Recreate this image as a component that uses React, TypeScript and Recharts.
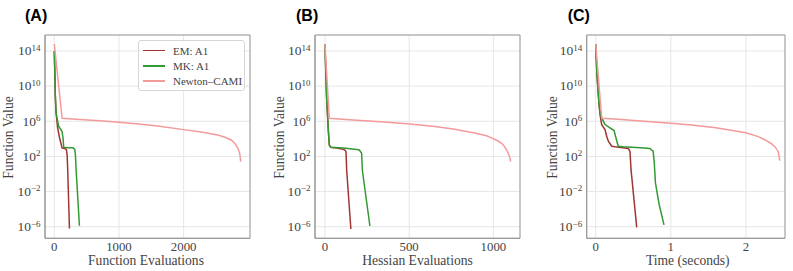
import React from 'react';
import { LineChart, Line, XAxis, YAxis, CartesianGrid, Legend, ReferenceArea } from 'recharts';

// ---------- data (x values and log10 of function value) ----------
const seriesNames = ['EM: A1', 'MK: A1', 'Newton\u2013CAMI'];
const seriesColors = ['#a23434', '#339933', '#f39a9a'];

// Panel A: function evaluations
const emA_x = [0, 10, 15, 25, 31, 51, 82, 119, 159, 186, 198, 207, 234];
const emA_logF = [14.0, 11.0, 9.0, 7.3, 6.75, 5.24, 4.1, 2.98, 2.9, 2.8, 2.2, 0.52, -6.2];
const mkA_x = [0, 10, 15, 25, 31, 67, 119, 135, 145, 211, 290, 316, 326, 337, 388];
const mkA_logF = [14.0, 11.0, 9.0, 7.3, 6.75, 5.43, 4.86, 4.1, 3.05, 3.0, 2.98, 2.8, 2.2, 0.52, -5.9];
const newtonA_x = [0, 120, 400, 700, 1000, 1300, 1600, 2000, 2271, 2530, 2650, 2737, 2789, 2830, 2851, 2870, 2882];
const newtonA_logF = [14.8, 6.34, 6.2, 6.05, 5.88, 5.68, 5.45, 5.05, 4.78, 4.44, 4.15, 3.87, 3.49, 3.05, 2.73, 2.2, 1.4];

// Panel B: Hessian evaluations
const emB_x = [0, 10, 20, 26, 34, 70, 109, 120, 125, 129, 154];
const emB_logF = [14.8, 8.8, 5.0, 3.3, 3.04, 2.95, 2.8, 2.7, 2.54, 0.45, -6.26];
const mkB_x = [0, 10, 20, 26, 34, 110, 188, 204, 218, 222, 238, 267];
const mkB_logF = [14.8, 8.8, 5.0, 3.3, 3.04, 2.95, 2.8, 2.73, 2.35, 0.45, -1.82, -5.92];
const newtonB_x = [0, 26, 168, 350, 505, 640, 762, 896, 960, 995, 1025, 1049, 1065, 1079, 1093, 1103];
const newtonB_logF = [14.8, 6.34, 6.15, 5.93, 5.69, 5.43, 5.12, 4.63, 4.35, 4.06, 3.78, 3.49, 3.15, 2.73, 2.16, 1.4];

// Panel C: time (seconds)
const emC_x = [0, 0.015, 0.035, 0.057, 0.08, 0.124, 0.146, 0.168, 0.213, 0.257, 0.434, 0.456, 0.47, 0.546];
const emC_logF = [14.8, 11.5, 9.0, 6.75, 5.62, 5.05, 4.3, 3.73, 3.16, 3.09, 2.9, 2.6, 0.52, -6.08];
const mkC_x = [0, 0.015, 0.048, 0.08, 0.124, 0.19, 0.244, 0.27, 0.3, 0.366, 0.6, 0.72, 0.764, 0.778, 0.795, 0.845, 0.909];
const mkC_logF = [14.8, 11.5, 7.5, 6.38, 5.62, 5.24, 4.94, 4.1, 3.16, 3.09, 3.0, 2.9, 2.6, 1.5, -1.0, -3.5, -5.8];
const newtonC_x = [0, 0.08, 0.3, 0.6, 1.0, 1.277, 1.6, 2.0, 2.164, 2.25, 2.33, 2.386, 2.43, 2.45];
const newtonC_logF = [14.8, 6.34, 6.22, 6.03, 5.77, 5.58, 5.25, 4.7, 4.25, 3.9, 3.5, 3.11, 2.54, 1.51];

// ticks
const yTickExponents = [-6, -2, 2, 6, 10, 14];
const xTicksA = [0, 1000, 2000];
const xTicksB = [0, 500, 1000];
const xTicksC = [0, 1, 2];

const panelTitles = ['(A)', '(B)', '(C)'];
const xAxisLabels = ['Function Evaluations', 'Hessian Evaluations', 'Time (seconds)'];
const yAxisLabel = 'Function Value';

// ---------- helpers ----------
const toPoints = (xs: number[], es: number[]) => xs.map((x, i) => ({ x, y: Math.pow(10, es[i]) }));
const yTicks = yTickExponents.map((e) => Math.pow(10, e));
const yDomain = [Math.pow(10, -7.32), Math.pow(10, 15.82)];

const SERIF = '"Liberation Serif", "Times New Roman", serif';
const SANS = '"Liberation Sans", Arial, sans-serif';
const TEXT = '#444';
const FRAME = '#9a9a9a';

const YTick = (props: any) => {
  const { x, y, payload } = props;
  const e = Math.round(Math.log10(payload.value));
  const exp = e < 0 ? '\u2212' + Math.abs(e) : String(e);
  return (
    <text x={x - 4.5} y={y + 4.3} textAnchor="end" fontFamily={SERIF} fill={TEXT} fontSize={13.5}>
      <tspan>10</tspan>
      <tspan dy={-4.5} fontSize={9}>{exp}</tspan>
    </text>
  );
};

const XTick = (props: any) => {
  const { x, y, payload } = props;
  return (
    <text x={x} y={y + 12.4} textAnchor="middle" fontFamily={SERIF} fill={TEXT} fontSize={12.8}>
      {payload.value}
    </text>
  );
};

const FixedText = (props: any) => {
  const { tx, ty, text, rotate, family, size, weight, fill, anchor } = props;
  return (
    <text
      x={rotate ? 0 : tx}
      y={rotate ? 0 : ty}
      transform={rotate ? `translate(${tx},${ty}) rotate(-90)` : undefined}
      textAnchor={anchor || 'middle'}
      fontFamily={family}
      fontSize={size}
      fontWeight={weight}
      fill={fill}
    >
      {text}
    </text>
  );
};

const LegendBox = (props: any) => {
  const payload = (props.payload || []) as any[];
  return (
    <div
      style={{
        position: 'absolute',
        left: 0,
        top: 0,
        width: 107,
        height: 51,
        boxSizing: 'border-box',
        border: '1px solid #d6d6d6',
        borderRadius: 3,
        background: 'rgba(255,255,255,0.85)',
      }}
    >
      {payload.map((p: any, i: number) => (
        <div key={i} style={{ position: 'absolute', left: 0, top: 9.5 + i * 15.3 - 7, height: 14, width: 107 }}>
          <div style={{ position: 'absolute', left: 3.5, top: 6, width: 22, height: 1.8, background: p.color }} />
          <div
            style={{
              position: 'absolute',
              left: 34,
              top: 0,
              lineHeight: '14px',
              fontFamily: SERIF,
              fontSize: 11,
              color: TEXT,
              whiteSpace: 'nowrap',
            }}
          >
            {p.value}
          </div>
        </div>
      ))}
    </div>
  );
};

type PanelProps = {
  left: number;
  width: number;
  plotLeft: number;
  plotRight: number;
  xDomain: number[];
  xTicks: number[];
  series: { x: number; y: number }[][];
  title: string;
  titleX: number;
  xLabel: string;
  xLabelCx: number;
  yLabelX: number;
  showLegend: boolean;
};

const PLOT_TOP = 35;
const PLOT_BOTTOM = 238.3;
const H = 271;

const Panel = (p: PanelProps) => {
  const margin = { top: PLOT_TOP, right: p.left + p.width - p.plotRight, bottom: 0, left: 0 };
  return (
    <div style={{ position: 'absolute', left: p.left, top: 0, width: p.width, height: H }}>
      <svg
        width={p.width}
        height={30}
        style={{ position: 'absolute', left: 0, top: 0, overflow: 'visible' }}
      >
        <text x={p.titleX - p.left} y={20.8} fontFamily={SANS} fontSize={16} fontWeight="bold" fill="#000">
          {p.title}
        </text>
      </svg>
      <LineChart width={p.width} height={H} margin={margin}>
        <CartesianGrid stroke="#e6e6e6" strokeWidth={1} />
        <XAxis
          type="number"
          dataKey="x"
          domain={p.xDomain}
          ticks={p.xTicks}
          allowDataOverflow
          height={H - PLOT_BOTTOM}
          tickSize={0}
          tickMargin={0}
          tickLine={false}
          axisLine={{ stroke: FRAME, strokeWidth: 1 }}
          tick={<XTick />}
          interval={0}
          label={
            <FixedText tx={p.xLabelCx - p.left} ty={265} text={p.xLabel} family={SERIF} size={13.6} fill={TEXT} />
          }
        />
        <YAxis
          type="number"
          scale="log"
          domain={yDomain}
          ticks={yTicks}
          allowDataOverflow
          width={p.plotLeft - p.left}
          tickSize={0}
          tickMargin={0}
          tickLine={false}
          axisLine={{ stroke: FRAME, strokeWidth: 1 }}
          tick={<YTick />}
          interval={0}
          label={
            <FixedText
              tx={p.yLabelX - p.left}
              ty={137.5}
              text={yAxisLabel}
              family={SERIF}
              size={13.6}
              fill={TEXT}
              rotate
            />
          }
        />
        <ReferenceArea
          x1={p.xDomain[0]}
          x2={p.xDomain[1]}
          y1={yDomain[0]}
          y2={yDomain[1]}
          fill="none"
          fillOpacity={0}
          stroke={FRAME}
          strokeWidth={1}
          ifOverflow="extendDomain"
        />
        {p.series.map((data, i) => (
          <Line
            key={i}
            data={data}
            dataKey="y"
            name={seriesNames[i]}
            type="linear"
            stroke={seriesColors[i]}
            strokeWidth={1.5}
            dot={false}
            activeDot={false}
            isAnimationActive={false}
          />
        ))}
        {p.showLegend && (
          <Legend
            layout="vertical"
            align="right"
            verticalAlign="top"
            content={<LegendBox />}
            wrapperStyle={{ left: 138 - p.left, top: 40, width: 0, height: 0, overflow: 'visible', position: 'absolute' }}
          />
        )}
      </LineChart>
    </div>
  );
};

export default function App() {
  return (
    <div style={{ position: 'absolute', left: 0, top: 0, width: 793, height: H, background: '#fff' }}>
      <Panel
        left={0}
        width={262}
        plotLeft={45}
        plotRight={250}
        xDomain={[-144, 3026]}
        xTicks={xTicksA}
        series={[toPoints(emA_x, emA_logF), toPoints(mkA_x, mkA_logF), toPoints(newtonA_x, newtonA_logF)]}
        title={panelTitles[0]}
        titleX={25}
        xLabel={xAxisLabels[0]}
        xLabelCx={146}
        yLabelX={13.3}
        showLegend
      />
      <Panel
        left={262}
        width={262}
        plotLeft={315}
        plotRight={520}
        xDomain={[-59, 1158]}
        xTicks={xTicksB}
        series={[toPoints(emB_x, emB_logF), toPoints(mkB_x, mkB_logF), toPoints(newtonB_x, newtonB_logF)]}
        title={panelTitles[1]}
        titleX={296}
        xLabel={xAxisLabels[1]}
        xLabelCx={417.5}
        yLabelX={284}
        showLegend={false}
      />
      <Panel
        left={524}
        width={269}
        plotLeft={586.7}
        plotRight={785}
        xDomain={[-0.12, 2.52]}
        xTicks={xTicksC}
        series={[toPoints(emC_x, emC_logF), toPoints(mkC_x, mkC_logF), toPoints(newtonC_x, newtonC_logF)]}
        title={panelTitles[2]}
        titleX={567.7}
        xLabel={xAxisLabels[2]}
        xLabelCx={687.8}
        yLabelX={556.5}
        showLegend={false}
      />
    </div>
  );
}
